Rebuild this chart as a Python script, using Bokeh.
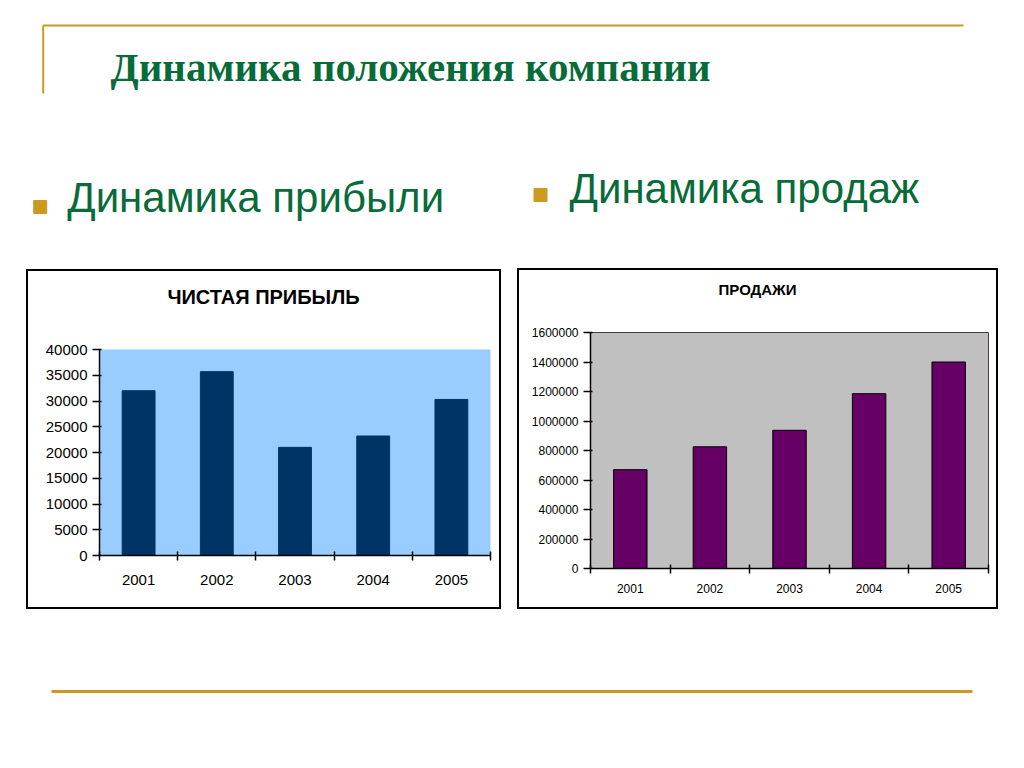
from bokeh.plotting import figure
from bokeh.layouts import column, row
from bokeh.models import (Range1d, FixedTicker, NumeralTickFormatter, Spacer,
                          ColumnDataSource)
from bokeh.embed import file_html
from bokeh.resources import INLINE
from bokeh.core.properties import value

# ---------------- data ----------------
years = ["2001", "2002", "2003", "2004", "2005"]
profit = [32000, 35700, 21000, 23200, 30300]
sales = [670000, 825000, 937000, 1185000, 1400000]
profit_ticks = [0, 5000, 10000, 15000, 20000, 25000, 30000, 35000, 40000]
sales_ticks = [0, 200000, 400000, 600000, 800000, 1000000, 1200000, 1400000, 1600000]

slide_title = "Динамика положения компании"
bullet_texts = ["Динамика прибыли", "Динамика продаж"]
chart_titles = ["ЧИСТАЯ ПРИБЫЛЬ", "ПРОДАЖИ"]

GREEN = "#086b3a"
GOLD = "#cc9a1e"
SANS = "Liberation Sans"
SERIF = "Liberation Serif"


def blank(width, height, x0=0, x1=None):
    f = figure(width=width, height=height, output_backend="svg", toolbar_location=None,
               x_range=Range1d(x0, width if x1 is None else x1), y_range=Range1d(height, 0),
               min_border=0, outline_line_color=None)
    f.axis.visible = False
    f.grid.visible = False
    return f


# ---------------- header ----------------
header = blank(1010, 268)
header.line([42.7, 963], [25, 25], line_color=GOLD, line_width=2)
header.line([42.7, 42.7], [25, 93], line_color=GOLD, line_width=2)
header.text([110], [66], text=[slide_title], text_font=value(SERIF), text_font_style="bold",
            text_font_size="41px", text_color=GREEN, text_baseline="alphabetic")
header.scatter([39.7, 540], [206.5, 194.5], marker="square", size=13,
               fill_color=GOLD, line_color=GOLD)
header.text([66.7, 569], [197, 188], text=bullet_texts, text_font=value(SANS),
            text_font_size="42px", text_color=GREEN, text_baseline="alphabetic")


# ---------------- charts ----------------
def bar_chart(width, title_h, chart_h, values, ticks, ymax, title, title_xy, fs_tick, fs_title,
              frame_bg, bar_color, bar_line, borders, x_standoff, outline):
    n = len(years)
    xs = [i + 0.5 for i in range(n)]
    src = ColumnDataSource(dict(x=xs, top=values, year=years))

    # the column aligns this figure's frame with the chart's frame horizontally,
    # so its x range is expressed in inner-box pixels over that frame span
    t = blank(width, title_h, borders[0], width - borders[1])
    t.text([title_xy[0]], [title_xy[1]], text=[title], text_align="center",
           text_baseline="middle", text_font=value(SANS), text_font_style="bold",
           text_font_size=fs_title, text_color="black")

    p = figure(width=width, height=chart_h, output_backend="svg", toolbar_location=None,
               x_range=Range1d(0, n), y_range=Range1d(0, ymax),
               min_border_left=borders[0], min_border_right=borders[1],
               min_border_top=borders[2], min_border_bottom=borders[3],
               background_fill_color=frame_bg, border_fill_color="white",
               outline_line_color=outline)
    p.grid.visible = False
    p.vbar(x="x", top="top", width=0.42, source=src, fill_color=bar_color,
           line_color=bar_line, line_width=1)

    xa = p.xaxis[0]
    xa.ticker = FixedTicker(ticks=xs, minor_ticks=list(range(n + 1)))
    xa.major_label_overrides = {x: y for x, y in zip(xs, years)}
    xa.major_tick_line_color = None
    xa.major_tick_out = 0
    xa.major_tick_in = 0
    xa.minor_tick_line_color = "black"
    xa.minor_tick_in = 4
    xa.minor_tick_out = 5
    xa.minor_tick_line_width = 1.5
    xa.axis_line_width = 1.5
    xa.major_label_standoff = x_standoff
    xa.major_label_text_font = SANS
    xa.major_label_text_font_size = fs_tick
    xa.major_label_text_color = "black"

    ya = p.yaxis[0]
    ya.ticker = FixedTicker(ticks=ticks)
    ya.formatter = NumeralTickFormatter(format="0")
    ya.minor_tick_line_color = None
    ya.major_tick_out = 7
    ya.major_tick_in = 2
    ya.major_tick_line_width = 1.5
    ya.axis_line_width = 1.5
    ya.major_label_standoff = 5
    ya.major_label_text_font = SANS
    ya.major_label_text_font_size = fs_tick
    ya.major_label_text_color = "black"

    return column(t, p, styles={"border": "2px solid black"})


box1 = bar_chart(471, 66, 270, profit, profit_ticks, 40000, chart_titles[0], (235, 25),
                 "15px", "20px", "#99ccff", "#003366", "#003366", (71, 9, 12, 52), 14, None)
box2 = bar_chart(477, 50, 287, sales, sales_ticks, 1600000, chart_titles[1], (238, 19),
                 "12px", "15px", "#c0c0c0", "#660066", "black", (71, 8, 12, 39), 10, "#4a3a4a")

footer = blank(1010, 150)
footer.line([51, 972], [82, 82], line_color=GOLD, line_width=3)

layout = column(header,
                row(Spacer(width=26), column(Spacer(height=1), box1), Spacer(width=16), box2),
                footer)

open("out.html", "w").write(file_html(layout, INLINE))
